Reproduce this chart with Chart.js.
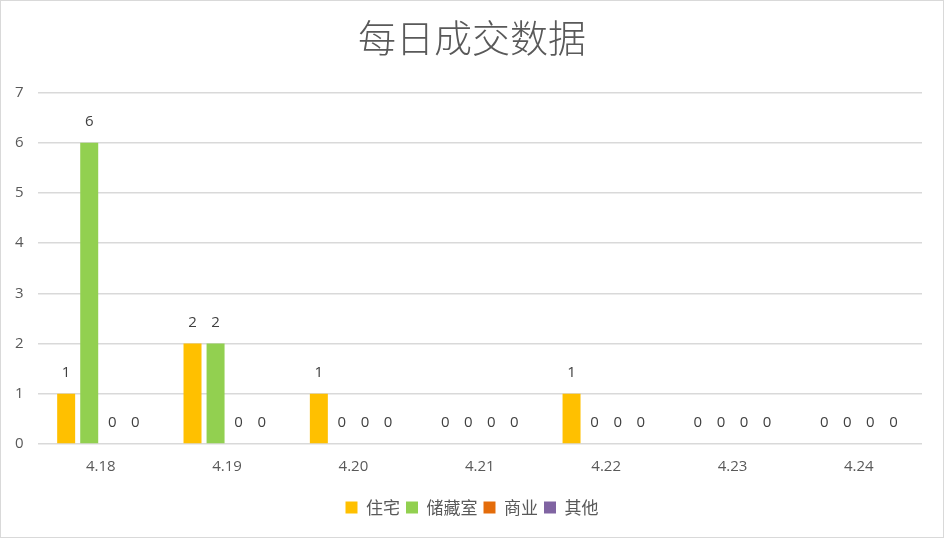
<!DOCTYPE html>
<html>
<head>
<meta charset="utf-8">
<script src="https://cdn.jsdelivr.net/npm/chart.js@4.4.1/dist/chart.umd.min.js"></script>
<style>
  html, body { margin: 0; padding: 0; background: #fff; }
  #wrap { width: 944px; height: 538px; box-sizing: border-box; border: 1px solid #d9d9d9; }
</style>
</head>
<body>
<div id="wrap"><canvas id="dailyChart" width="942" height="536"></canvas></div>
<script>
// daily transaction data
const days = ['4.18', '4.19', '4.20', '4.21', '4.22', '4.23', '4.24'];
const residential = [1, 2, 1, 0, 1, 0, 0];
const storage = [6, 2, 0, 0, 0, 0, 0];
const commercial = [0, 0, 0, 0, 0, 0, 0];
const other = [0, 0, 0, 0, 0, 0, 0];
const yTicks = [0, 1, 2, 3, 4, 5, 6, 7];

const textColor = '#595959';
const cjkFont = '"Noto Sans CJK SC", "Microsoft YaHei", sans-serif';
const numFont = '"Open Sans", Calibri, sans-serif';

// draw the value above every bar, zeros included
const barLabels = {
  id: 'barLabels',
  afterDatasetsDraw(chart) {
    const ctx = chart.ctx;
    ctx.save();
    ctx.fillStyle = '#404040';
    ctx.font = '15px ' + numFont;
    ctx.textAlign = 'center';
    ctx.textBaseline = 'middle';
    chart.data.datasets.forEach((ds, i) => {
      chart.getDatasetMeta(i).data.forEach((bar, j) => {
        ctx.fillText(String(ds.data[j]), bar.x, bar.y - 21);
      });
    });
    ctx.restore();
  }
};

new Chart(document.getElementById('dailyChart'), {
  type: 'bar',
  data: {
    labels: days,
    datasets: [
      { label: '住宅', data: residential, backgroundColor: '#ffc000' },
      { label: '储藏室', data: storage, backgroundColor: '#92d050' },
      { label: '商业', data: commercial, backgroundColor: '#e46c0a' },
      { label: '其他', data: other, backgroundColor: '#8064a2' }
    ]
  },
  options: {
    responsive: false,
    animation: false,
    categoryPercentage: 0.73,
    barPercentage: 0.78,
    layout: { padding: { left: 0, right: 0, top: 8, bottom: 11 } },
    plugins: {
      title: {
        display: true,
        text: '每日成交数据',
        color: textColor,
        font: { family: cjkFont, size: 38, weight: '300' },
        padding: { top: 6, bottom: 32 }
      },
      legend: {
        position: 'bottom',
        labels: {
          color: textColor,
          font: { family: cjkFont, size: 17 },
          boxWidth: 12,
          boxHeight: 12,
          padding: 6
        }
      },
      tooltip: { enabled: false }
    },
    scales: {
      x: {
        grid: { display: false },
        border: { display: false },
        afterFit(axis) { axis.height += 11; },
        ticks: { color: textColor, font: { size: 15, family: numFont }, padding: 6 }
      },
      y: {
        min: 0,
        max: 7,
        afterBuildTicks(axis) { axis.ticks = yTicks.map(v => ({ value: v })); },
        grid: { color: '#d9d9d9', lineWidth: 1.5, drawTicks: false },
        border: { display: false },
        ticks: { color: textColor, font: { size: 15, family: numFont }, padding: 14 }
      },
      // empty right-hand spacer so the legend stays centred on the page
      spacer: {
        type: 'linear',
        position: 'right',
        grid: { display: false },
        border: { display: false },
        ticks: { display: false },
        afterFit(axis) { axis.width = 21; }
      }
    }
  },
  plugins: [barLabels]
});
</script>
</body>
</html>
